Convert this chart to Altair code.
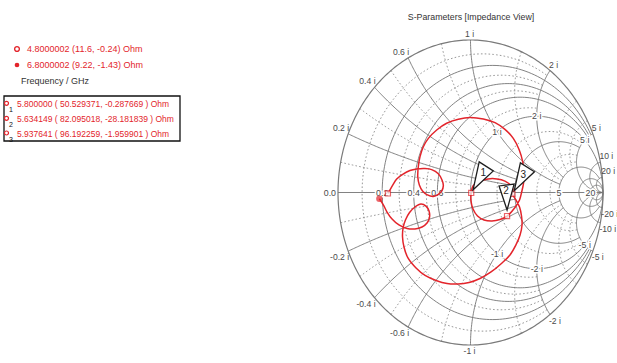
import math
import numpy as np
import pandas as pd
import altair as alt

Z0 = 50.0

# ---- sweep end points and marker readouts (frequency in GHz, impedance in Ohm)
sweep_freq = [4.8000002, 6.8000002]
sweep_res = [11.6, 9.22]
sweep_rea = [-0.24, -1.43]

marker_id = ["1", "2", "3"]
marker_freq = [5.800000, 5.634149, 5.937641]
marker_res = [50.529371, 82.095018, 96.192259]
marker_rea = [-0.287669, -28.181839, -1.959901]

# ---- reflection coefficient of the sweep between the readout points
# 4.8 GHz -> marker 2
seg_a_re = [-0.587, -0.557, -0.509, -0.457, -0.406, -0.343, -0.293, -0.243, -0.215, -0.205,
            -0.217, -0.243, -0.281, -0.325, -0.362, -0.386, -0.398, -0.394, -0.381, -0.356,
            -0.318, -0.255, -0.180, -0.092, -0.004, 0.097, 0.185, 0.260, 0.323, 0.368,
            0.394, 0.404, 0.400, 0.386, 0.370, 0.336]
seg_a_im = [0.049, 0.089, 0.121, 0.144, 0.154, 0.157, 0.150, 0.123, 0.082, 0.045,
            0.010, -0.013, -0.026, -0.016, 0.010, 0.049, 0.104, 0.169, 0.235, 0.300,
            0.355, 0.410, 0.454, 0.480, 0.492, 0.482, 0.458, 0.414, 0.355, 0.279,
            0.202, 0.126, 0.060, 0.003, -0.049, -0.098]
# marker 2 -> marker 1
seg_b_re = [0.223, 0.162, 0.102, 0.053, 0.019, 0.004]
seg_b_im = [-0.177, -0.187, -0.180, -0.154, -0.108, -0.056]
# marker 1 -> marker 3
seg_c_re = [0.019, 0.064, 0.132, 0.200, 0.260, 0.302, 0.321]
seg_c_im = [0.043, 0.072, 0.089, 0.089, 0.075, 0.049, 0.020]
# marker 3 -> 6.8 GHz
seg_d_re = [0.343, 0.370, 0.385, 0.389, 0.374, 0.343, 0.298, 0.238, 0.155, 0.072,
            -0.011, -0.094, -0.177, -0.260, -0.343, -0.411, -0.472, -0.502, -0.513, -0.509,
            -0.491, -0.460, -0.419, -0.374, -0.336, -0.313, -0.309, -0.328, -0.366, -0.419,
            -0.479, -0.540, -0.592, -0.630, -0.657]
seg_d_im = [-0.049, -0.095, -0.154, -0.213, -0.279, -0.344, -0.410, -0.462, -0.521, -0.564,
            -0.590, -0.600, -0.597, -0.577, -0.544, -0.495, -0.429, -0.357, -0.292, -0.233,
            -0.180, -0.131, -0.095, -0.075, -0.089, -0.121, -0.161, -0.200, -0.226, -0.239,
            -0.236, -0.213, -0.174, -0.128, -0.082]

# ---- Smith grid (normalised resistance / reactance and how far each line runs)
INF = math.inf
major_r = [0.2, 0.4, 0.6, 1.0, 2.0, 5.0, 10.0, 20.0]
major_r_span = [5, 5, 5, INF, 5, 20, INF, INF]
minor_r = [0.1, 0.3, 0.5, 0.8, 1.5, 3.0, 4.0]
minor_r_span = [2, 2, 2, 2, 5, 5, 5]
major_x = [0.2, 0.4, 0.6, 1.0, 2.0, 5.0, 10.0, 20.0]
major_x_span = [2, 2, 2, 5, 5, 20, INF, INF]
minor_x = [0.1, 0.3, 0.5, 0.8, 1.5, 3.0, 4.0]
minor_x_span = [1, 1, 1, 1, 5, 5, 5]

rim_ticks = [0.2, 0.4, 0.6, 1, 2, 5, 10, 20]
inner_ticks = [1, 2, 5]
axis_ticks = [0.2, 0.4, 0.6, 5, 20]

FONT = "Liberation Sans"
RED = "#e3242b"
INK = "#4a4a4a"
OX, OY = 338, 40          # plot-area origin on the page
W, H = 265, 305


def to_gamma(z):
    z = np.asarray(z, dtype=complex)
    return (z - 1) / (z + 1)


def r_circle(r, span, n=181):
    tmax = np.arctan(span / (1 + r)) if math.isfinite(span) else np.pi / 2 - 1e-4
    t = np.linspace(-tmax, tmax, n)
    return to_gamma(r + 1j * (1 + r) * np.tan(t))


def x_arc(x, span, n=121):
    ax = abs(x)
    p_end = np.arctan(ax / (1 + span)) if math.isfinite(span) else 1e-4
    p = np.linspace(np.arctan(ax), p_end, n)
    r = np.clip(ax / np.tan(p) - 1, 0, None)
    g = to_gamma(r + 1j * ax)
    return g if x > 0 else np.conj(g)


pieces = []


def add(g, name, kind):
    g = np.asarray(g)
    pieces.append(pd.DataFrame({"re": g.real, "im": g.imag, "arc": name,
                                "i": np.arange(len(g)), "kind": kind}))


for r, s in zip(major_r, major_r_span):
    add(r_circle(r, s), f"r{r}", "major")
for r, s in zip(minor_r, minor_r_span):
    add(r_circle(r, s), f"r{r}", "minor")
for x, s in zip(major_x, major_x_span):
    for sg in (1, -1):
        add(x_arc(sg * x, s), f"x{sg * x}", "major")
for x, s in zip(minor_x, minor_x_span):
    for sg in (1, -1):
        add(x_arc(sg * x, s), f"x{sg * x}", "minor")
add(np.array([-1 + 0j, 1 + 0j]), "axis", "major")
add(r_circle(0.0, INF, 361), "rim", "rim")
grid = pd.concat(pieces, ignore_index=True)

# impedance readouts -> reflection coefficient
g_sweep = to_gamma((np.array(sweep_res) + 1j * np.array(sweep_rea)) / Z0)
g_mark = to_gamma((np.array(marker_res) + 1j * np.array(marker_rea)) / Z0)

tr_re = ([g_sweep[0].real] + seg_a_re + [g_mark[1].real] + seg_b_re + [g_mark[0].real]
         + seg_c_re + [g_mark[2].real] + seg_d_re + [g_sweep[1].real])
tr_im = ([g_sweep[0].imag] + seg_a_im + [g_mark[1].imag] + seg_b_im + [g_mark[0].imag]
         + seg_c_im + [g_mark[2].imag] + seg_d_im + [g_sweep[1].imag])
trace = pd.DataFrame({"re": tr_re, "im": tr_im, "i": range(len(tr_re))})

marks_df = pd.DataFrame({"re": g_mark.real, "im": g_mark.imag, "id": marker_id})
start_df = pd.DataFrame({"re": [g_sweep[0].real], "im": [g_sweep[0].imag]})
end_df = pd.DataFrame({"re": [g_sweep[1].real], "im": [g_sweep[1].imag]})

X = alt.X("re:Q", scale=alt.Scale(domain=[-1, 1], nice=False, zero=False), axis=None)
Y = alt.Y("im:Q", scale=alt.Scale(domain=[-1, 1], nice=False, zero=False), axis=None)

layers = []

# grid lines
layers.append(alt.Chart(grid[grid.kind == "minor"]).mark_line(
    color="#7c7c7c", strokeWidth=0.8, strokeDash=[1.6, 2.2]).encode(X, Y, detail="arc:N", order="i:Q"))
layers.append(alt.Chart(grid[grid.kind == "major"]).mark_line(
    color="#747474", strokeWidth=0.9).encode(X, Y, detail="arc:N", order="i:Q"))
layers.append(alt.Chart(grid[grid.kind == "rim"]).mark_line(
    color="#7a7a7a", strokeWidth=1.2).encode(X, Y, detail="arc:N", order="i:Q"))

# reactance labels round the rim
rim_rows = []
for v in rim_ticks:
    for sg in (1, -1):
        g = complex(to_gamma(1j * sg * v))
        al = "right" if g.real < -0.02 else ("left" if g.real > 0.02 else "center")
        rim_rows.append({"re": g.real, "im": g.imag, "t": f"{sg * v:g} i", "al": al,
                         "bl": "bottom" if sg > 0 else "top"})
rim_df = pd.DataFrame(rim_rows)
for (al, bl), sub in rim_df.groupby(["al", "bl"]):
    layers.append(alt.Chart(sub).mark_text(
        align=al, baseline=bl, dy=-1 if bl == "bottom" else 2,
        dx={"center": -1, "left": -1, "right": 1}[al],
        font=FONT, fontSize=8.6, color=INK).encode(X, Y, text="t:N"))

# reactance labels on the unit-resistance circle, and resistance labels on the axis
inner_rows = []
for v in inner_ticks:
    for sg in (1, -1):
        g = complex(to_gamma(1 + 1j * sg * v))
        inner_rows.append({"re": g.real, "im": g.imag, "t": f"{sg * v:g} i"})
for r in axis_ticks:
    g = complex(to_gamma(r))
    inner_rows.append({"re": g.real, "im": 0.0, "t": f"{r:g}"})
inner_df = pd.DataFrame(inner_rows)
layers.append(alt.Chart(inner_df).mark_text(
    font=FONT, fontSize=8.8, color="white", stroke="white", strokeWidth=3,
    baseline="middle").encode(X, Y, text="t:N"))
layers.append(alt.Chart(inner_df).mark_text(
    font=FONT, fontSize=8.8, color=INK, baseline="middle").encode(X, Y, text="t:N"))
layers.append(alt.Chart(pd.DataFrame({"re": [-1.0], "im": [0.0], "t": ["0.0"]})).mark_text(
    font=FONT, fontSize=8.8, color=INK, align="right", baseline="middle", dx=-2
).encode(X, Y, text="t:N"))

# sweep trace
layers.append(alt.Chart(trace).mark_line(
    color=RED, strokeWidth=1.5, interpolate="catmull-rom").encode(X, Y, order="i:Q"))

# marker points
layers.append(alt.Chart(pd.concat([start_df, marks_df[["re", "im"]]])).mark_point(
    shape="square", size=26, filled=True, color="white", stroke=RED, strokeWidth=1.2
).encode(X, Y))
layers.append(alt.Chart(end_df).mark_point(
    shape="circle", size=42, filled=True, color=RED).encode(X, Y))

# marker flags
flag_side = "M0.06,-0.1L0.25,-0.97L0.69,-0.69Z"
flag_down = "M0,-0.19L-0.25,-0.94L0.22,-1Z"
flag_style = {"1": (flag_side, 12, -20), "2": (flag_down, -1, -25), "3": (flag_side, 11, -19)}
for mid in marker_id:
    path, ndx, ndy = flag_style[mid]
    sub = marks_df[marks_df.id == mid]
    layers.append(alt.Chart(sub).mark_point(
        shape=path, size=4096, filled=True, color="white", fillOpacity=1,
        stroke="#1e1e1e", strokeWidth=1.3, opacity=1).encode(X, Y))
    layers.append(alt.Chart(sub).mark_text(
        font=FONT, fontSize=10, color="#1e1e1e", dx=ndx, dy=ndy, baseline="middle"
    ).encode(X, Y, text="id:N"))

# ---- page text: title and readout legend
one = pd.DataFrame({"k": [0]})


def page_text(txt, x, y, size=9, color=INK, align="left"):
    return alt.Chart(one).mark_text(
        text=txt, font=FONT, fontSize=size, color=color, align=align, baseline="middle"
    ).encode(x=alt.value(x - OX), y=alt.value(y - OY))


layers.append(page_text("S-Parameters [Impedance View]", 471, 17, size=8.8, color="#333333",
                        align="center"))

sweep_text = [f"{f:.7f}  ({r:g}, {x:g}) Ohm" for f, r, x in zip(sweep_freq, sweep_res, sweep_rea)]
for k, (txt, yy) in enumerate(zip(sweep_text, [49, 65])):
    layers.append(alt.Chart(one).mark_point(
        shape="circle", size=22, filled=(k == 1), color=RED, strokeWidth=1.4, opacity=1
    ).encode(x=alt.value(17 - OX), y=alt.value(yy - OY)))
    layers.append(page_text(txt, 27, yy, size=9, color=RED))
layers.append(page_text("Frequency / GHz", 21, 81, size=9, color="#333333"))

layers.append(alt.Chart(one).mark_rect(
    fill="white", stroke="#111111", strokeWidth=1.3
).encode(x=alt.value(4 - OX), x2=alt.value(180 - OX), y=alt.value(96 - OY),
         y2=alt.value(141 - OY)))

rows_y = [104.3, 119.3, 134]
for mid, f, r, x, yy in zip(marker_id, marker_freq, marker_res, marker_rea, rows_y):
    layers.append(alt.Chart(one).mark_point(
        shape="circle", size=16, color=RED, strokeWidth=1.2, opacity=1
    ).encode(x=alt.value(6.5 - OX), y=alt.value(yy - 1 - OY)))
    layers.append(page_text(mid, 9, yy + 6, size=7, color="#111111"))
    layers.append(page_text(f"{f:.6f} ( {r:.6f}, {x:.6f} ) Ohm", 17, yy, size=8.5, color=RED))

chart = alt.layer(*layers).properties(
    width=W, height=H,
    padding={"left": OX, "top": OY, "right": 617 - OX - W, "bottom": 363 - OY - H},
    autosize=alt.AutoSizeParams(type="none"),
    background="white",
).configure_view(strokeWidth=0)

chart.save("out.html", embed_options={"renderer": "svg", "actions": False})
